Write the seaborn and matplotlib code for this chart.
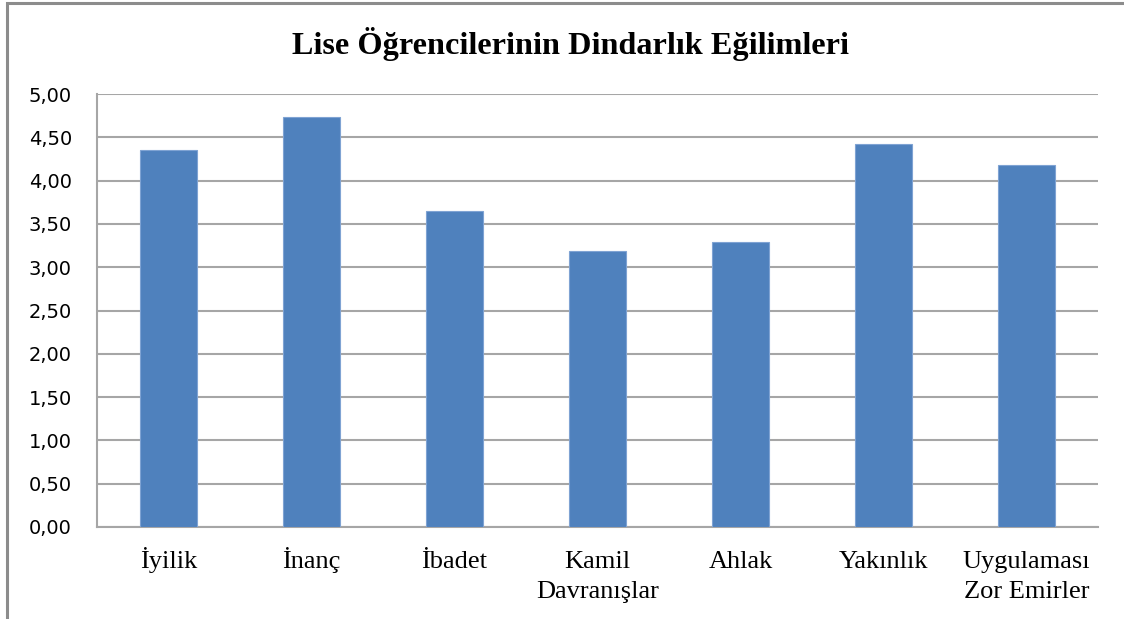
import matplotlib
matplotlib.use('Agg')
import matplotlib.pyplot as plt
import seaborn as sns
import pandas as pd
from matplotlib.patches import Rectangle

# Data
categories = ['İyilik', 'İnanç', 'İbadet', 'Kamil\nDavranışlar', 'Ahlak', 'Yakınlık', 'Uygulaması\nZor Emirler']
values = [4.35, 4.73, 3.65, 3.19, 3.29, 4.42, 4.18]
y_ticks = [0, 0.5, 1.0, 1.5, 2.0, 2.5, 3.0, 3.5, 4.0, 4.5, 5.0]
title = 'Lise Öğrencilerinin Dindarlık Eğilimleri'

df = pd.DataFrame({'Boyut': categories, 'Ortalama': values})

sns.set_style('white')
plt.rcParams['font.family'] = ['Liberation Serif', 'DejaVu Serif']
plt.rcParams['text.color'] = 'black'
plt.rcParams['ytick.color'] = 'black'

fig = plt.figure(figsize=(11.24, 6.19), dpi=100)
ax = fig.add_axes([97 / 1124, 92 / 619, 1001 / 1124, 433 / 619])

sns.barplot(data=df, x='Boyut', y='Ortalama', color='#4F81BD', width=0.4,
            saturation=1, edgecolor='#7FA3D3', linewidth=0.8, ax=ax, zorder=3)

ax.set_ylim(0, 5)
ax.set_xlim(-0.5, len(categories) - 0.5)
ax.set_yticks(y_ticks)
ax.set_yticklabels([f'{t:.2f}'.replace('.', ',') for t in y_ticks],
                   fontfamily='DejaVu Sans', fontsize=14, color='black')
ax.tick_params(axis='y', length=0, pad=18)
ax.tick_params(axis='x', length=0)
ax.set_xticklabels([''] * len(categories))
ax.set_xlabel('')
ax.set_ylabel('')

# category labels, one baseline per line so every first line sits level
for i, lab in enumerate(categories):
    for j, line in enumerate(lab.split('\n')):
        ax.annotate(line, xy=(i, 0), xycoords=('data', 'axes fraction'),
                    xytext=(0, -29.5 - j * 21.6), textcoords='offset points',
                    ha='center', va='baseline', fontsize=19, color='black')

ax.yaxis.grid(True, color='#A6A6A6', linewidth=1.5, zorder=0)
ax.set_axisbelow(True)
for side in ['top', 'right']:
    ax.spines[side].set_visible(False)
for side in ['left', 'bottom']:
    ax.spines[side].set_color('#A6A6A6')
    ax.spines[side].set_linewidth(1.5)

fig.text(570 / 1124, 1 - 44 / 619, title, ha='center', va='center',
         fontsize=23.2, fontweight='bold', color='black')

# chart border (only left and top visible in the reference)
fig.patches.append(Rectangle((7 / 1124, -0.1), 1.2, 1 - 3 / 619 + 0.1,
                             transform=fig.transFigure, fill=False,
                             edgecolor='#8C8C8C', linewidth=2.2))

plt.savefig('out.png', dpi=100)
